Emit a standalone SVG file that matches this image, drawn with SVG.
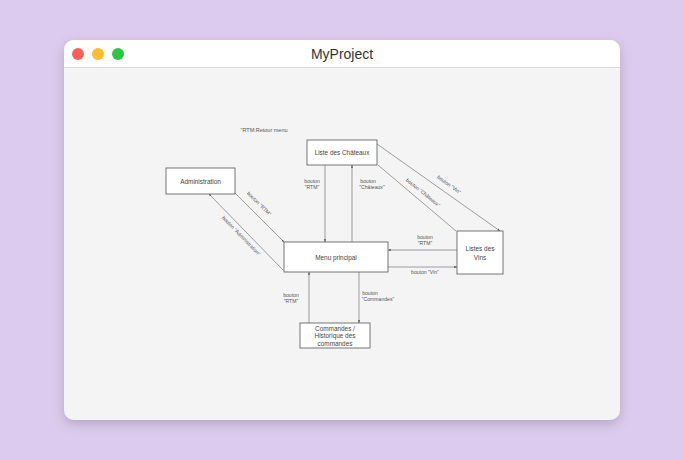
<svg xmlns="http://www.w3.org/2000/svg" width="684" height="460" viewBox="0 0 684 460">
<defs>
<marker id="ah" viewBox="0 0 6 6" refX="6" refY="3" markerWidth="4" markerHeight="4" orient="auto">
<path d="M0,0.5 L6,3 L0,5.5 z" fill="#555"/>
</marker>
<filter id="sh" x="-10%" y="-10%" width="120%" height="130%">
<feDropShadow dx="0" dy="4" stdDeviation="6" flood-color="#000" flood-opacity="0.18"/>
</filter>
<clipPath id="win"><rect x="64" y="40" width="556" height="380" rx="10"/></clipPath>
</defs>
<style>
.node{fill:#fff;stroke:#555;stroke-width:0.8}
.nl{font-family:"Liberation Sans",Arial,sans-serif;font-size:6.4px;fill:#444;text-anchor:middle}
.el{font-family:"Liberation Sans",Arial,sans-serif;font-size:5.1px;fill:#555;text-anchor:middle}
.c{stroke:#777;stroke-width:0.7;fill:none;marker-end:url(#ah)}
.p{stroke:#777;stroke-width:0.7;fill:none}
</style>
<rect width="684" height="460" fill="#dccbee"/>
<g filter="url(#sh)"><rect x="64" y="40" width="556" height="380" rx="10" fill="#f4f4f4"/></g>
<g clip-path="url(#win)">
<rect x="64" y="40" width="556" height="27" fill="#fff"/>
<line x1="64" y1="67.5" x2="620" y2="67.5" stroke="#ddd" stroke-width="1"/>
</g>
<circle cx="78" cy="54" r="6" fill="#fe5f57"/>
<circle cx="98" cy="54" r="6" fill="#febc2e"/>
<circle cx="118" cy="54" r="6" fill="#28c840"/>
<text x="342" y="59" font-family="'Liberation Sans',Arial,sans-serif" font-size="14" fill="#333" text-anchor="middle">MyProject</text>

<text class="el" x="264" y="132" style="font-size:5.5px">"RTM:Retour menu</text>

<g id="connectors">
<line class="c" x1="325" y1="165" x2="325" y2="242"/>
<line class="c" x1="352" y1="242" x2="352" y2="165"/>
<line class="c" x1="235" y1="193" x2="284" y2="242"/>
<line class="c" x1="283" y1="270" x2="209" y2="194"/>
<line class="c" x1="377" y1="144" x2="500" y2="231"/>
<line class="p" x1="456" y1="231" x2="378" y2="165"/>
<line class="c" x1="457" y1="250" x2="388" y2="250"/>
<line class="c" x1="388" y1="267" x2="457" y2="267"/>
<line class="c" x1="309" y1="323" x2="309" y2="272"/>
<line class="c" x1="359" y1="272" x2="359" y2="323"/>
<text class="el" x="312" y="183">bouton</text>
<text class="el" x="312" y="189">"RTM"</text>
<text class="el" x="368" y="183">bouton</text>
<text class="el" x="372" y="189">"Châteaux"</text>
<text class="el" transform="translate(258,205) rotate(45)">bouton "RTM"</text>
<text class="el" transform="translate(240,237) rotate(46)">bouton "Administration"</text>
<text class="el" transform="translate(422,194) rotate(39)">bouton "Châteaux"</text>
<text class="el" transform="translate(448,186) rotate(36)">bouton "Vin"</text>
<text class="el" x="425" y="239">bouton</text>
<text class="el" x="425" y="245">"RTM"</text>
<text class="el" x="425" y="274">bouton "Vin"</text>
<text class="el" x="291" y="297">bouton</text>
<text class="el" x="291" y="303">"RTM"</text>
<text class="el" x="370" y="295">bouton</text>
<text class="el" x="378" y="301">"Commandes"</text>
</g>

<g id="administration">
<rect class="node" x="166" y="168" width="69" height="26"/>
<text class="nl" x="200.5" y="183.5">Administration</text>
</g>
<g id="chateaux">
<rect class="node" x="307" y="140" width="70" height="25"/>
<text class="nl" x="342" y="154.5">Liste des Châteaux</text>
</g>
<g id="menu">
<rect class="node" x="284" y="242" width="104" height="30"/>
<text class="nl" x="336" y="259.5">Menu principal</text>
</g>
<g id="vins">
<rect class="node" x="457" y="231" width="46" height="43"/>
<text class="nl" x="480" y="251">Listes des</text>
<text class="nl" x="480" y="260">Vins</text>
</g>
<g id="commandes">
<rect class="node" x="300" y="323" width="70" height="25"/>
<text class="nl" x="335" y="330.5">Commandes /</text>
<text class="nl" x="335" y="338">Historique des</text>
<text class="nl" x="335" y="345.5">commandes</text>
</g>
</svg>
